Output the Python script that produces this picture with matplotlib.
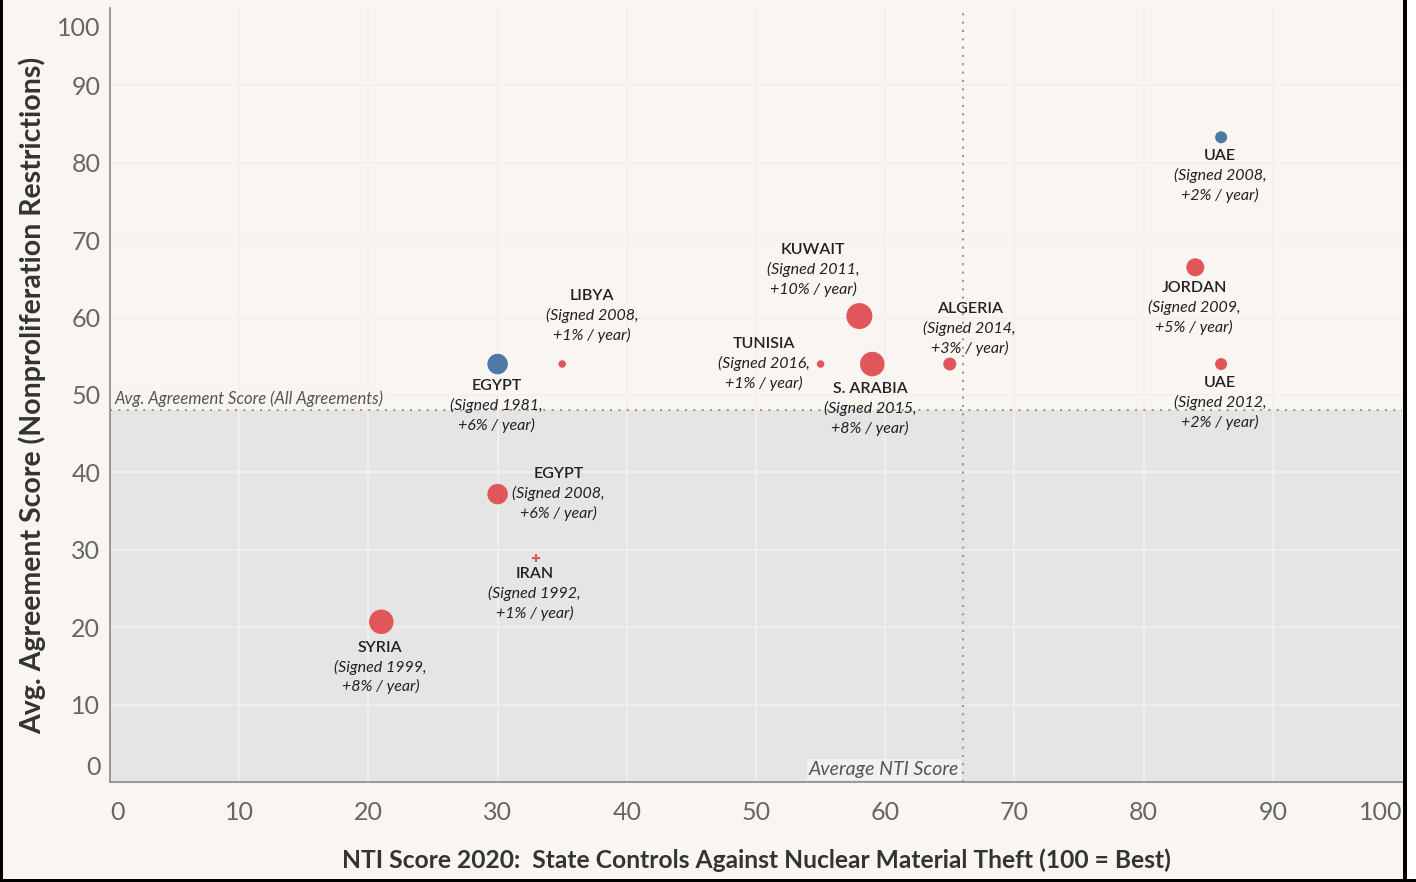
import matplotlib
matplotlib.use("Agg")
import matplotlib.pyplot as plt
import matplotlib.transforms as mtransforms
import numpy as np
from matplotlib.patches import Rectangle

# ---------------- data ----------------
countries = ["UAE", "JORDAN", "UAE", "ALGERIA", "S. ARABIA", "KUWAIT",
             "TUNISIA", "LIBYA", "EGYPT", "EGYPT", "IRAN", "SYRIA"]
signed_year = [2008, 2009, 2012, 2014, 2015, 2011, 2016, 2008, 1981, 2008, 1992, 1999]
growth_pct = [2, 5, 2, 3, 8, 10, 1, 1, 6, 6, 1, 8]
nti_score = [86, 84, 86, 65, 59, 58, 55, 35, 30, 30, 33, 21]
agreement_score = [83.3, 66.5, 54.0, 54.0, 54.0, 60.2, 54.0, 54.0, 54.0, 37.2, 28.9, 20.7]
earlier_agreement = [True, False, False, False, False, False, False, False, True, False, False, False]

avg_nti = 66.0
avg_agreement = 48.1

x_ticks = [0, 10, 20, 30, 40, 50, 60, 70, 80, 90, 100]
y_ticks = [0, 10, 20, 30, 40, 50, 60, 70, 80, 90, 100]

# ---------------- style ----------------
RED = "#e15759"
BLUE = "#4e79a7"
BG = "#f9f5f1"
SHADE = "#e5e5e5"
GRID = "#f2f0ee"

# label offsets (pixels) of country name centre relative to point
label_offsets = [(-1, -19), (-1, -21), (-1, -19), (20, 55), (-2, -25), (-46, 66),
                 (-57, 20), (30, 68), (-1, -22), (61, 20), (-2, -16), (-1, -26)]
marker_shapes = ["o"] * 10 + ["+", "o"]

# size scale: growth % -> marker diameter (px)
size_knots_pct = [1, 2, 3, 5, 6, 8, 10]
size_knots_px = [7.5, 12, 13, 18, 20.5, 24.5, 26]

plt.rcParams["font.family"] = ["Lato", "DejaVu Sans"]

W, H, DPI = 1416, 882, 100
fig = plt.figure(figsize=(W / DPI, H / DPI), dpi=DPI, facecolor=BG)
ax = fig.add_axes([110 / W, 1 - 782 / H, (1402 - 110) / W, (782 - 8) / H])
ax.set_facecolor(BG)
ax.set_xlim(0, 100)
ax.set_ylim(0, 100)

# shaded lower region
ax.axhspan(0, avg_agreement, color=SHADE, zorder=0, lw=0)

# grid
for t in x_ticks[1:-1]:
    ax.axvline(t, color=GRID, lw=1.2, zorder=0.5)
for t in y_ticks[1:-1]:
    ax.axhline(t, color=GRID, lw=1.2, zorder=0.5)

# average lines
ax.axhline(avg_agreement, color="#9a9a9a", lw=1.5, ls=(0, (1, 3)), zorder=1)
ax.axvline(avg_nti, color="#9a9a9a", lw=1.5, ls=(0, (1, 3)), zorder=1)

ax.text(0.35, avg_agreement + 0.4, "Avg. Agreement Score (All Agreements)",
        style="italic", fontsize=12, color="#555555", ha="left", va="bottom",
        bbox=dict(boxstyle="square,pad=0.12", fc="#f7f4f1", ec="none"), zorder=2)
ax.text(avg_nti - 0.3, 0.5, "Average NTI Score",
        style="italic", fontsize=14, color="#555555", ha="right", va="bottom",
        bbox=dict(boxstyle="square,pad=0.1", fc="#f1f1f1", ec="none"), zorder=2)

# points
for i in range(len(countries)):
    d = np.interp(growth_pct[i], size_knots_pct, size_knots_px)
    col = BLUE if earlier_agreement[i] else RED
    if marker_shapes[i] == "+":
        ax.scatter(nti_score[i], agreement_score[i], marker="+", s=(6 * 0.72) ** 2 * 2,
                   color=col, linewidths=1.6, zorder=3)
    else:
        ax.scatter(nti_score[i], agreement_score[i], s=(d * 0.72) ** 2,
                   color=col, edgecolors="none", zorder=3)
    dx, dy = label_offsets[i]
    ax.annotate(countries[i], (nti_score[i], agreement_score[i]),
                xytext=(dx, dy), textcoords="offset pixels",
                ha="center", va="center", fontsize=11.5, fontweight="semibold",
                color="#222222", zorder=4)
    ax.annotate(f"(Signed {signed_year[i]},", (nti_score[i], agreement_score[i]),
                xytext=(dx, dy - 19.5), textcoords="offset pixels",
                ha="center", va="center", fontsize=11.5, style="italic",
                color="#222222", zorder=4)
    ax.annotate(f"+{growth_pct[i]}% / year)", (nti_score[i], agreement_score[i]),
                xytext=(dx, dy - 39), textcoords="offset pixels",
                ha="center", va="center", fontsize=11.5, style="italic",
                color="#222222", zorder=4)

# spines
for s in ["top", "right"]:
    ax.spines[s].set_visible(False)
for s in ["left", "bottom"]:
    ax.spines[s].set_color("#8a8a8a")
    ax.spines[s].set_linewidth(1.2)

ax.set_xticks(x_ticks)
ax.set_yticks(y_ticks)
ax.set_xticklabels([str(t) for t in x_ticks])
ax.set_yticklabels([str(t) for t in y_ticks])
ax.tick_params(axis="both", length=0, labelsize=18, labelcolor="#666666")
ax.tick_params(axis="x", pad=14)
ax.tick_params(axis="y", pad=7)

xt = ax.xaxis.get_major_ticks()
xt[0].label1.set_ha("left")
xt[-1].label1.set_ha("right")
yt = ax.yaxis.get_major_ticks()
yt[0].label1.set_va("bottom")
yt[0].label1.set_transform(yt[0].label1.get_transform() +
                           mtransforms.ScaledTranslation(0, 3 / DPI, fig.dpi_scale_trans))
yt[-1].label1.set_va("top")
yt[-1].label1.set_transform(yt[-1].label1.get_transform() +
                            mtransforms.ScaledTranslation(0, -9 / DPI, fig.dpi_scale_trans))

ax.set_xlabel("NTI Score 2020:  State Controls Against Nuclear Material Theft (100 = Best)",
              fontsize=17.7, fontweight="bold", color="#333333", labelpad=17)
ax.set_ylabel("Avg. Agreement Score (Nonproliferation Restrictions)",
              fontsize=20.5, fontweight="bold", color="#333333", labelpad=8)

# black frame on figure edges
fig.patches.append(Rectangle((0, 0), 3 / W, 1, transform=fig.transFigure,
                             fc="black", ec="none", zorder=10))
fig.patches.append(Rectangle((1403 / W, 0), 4 / W, 1, transform=fig.transFigure,
                             fc="black", ec="none", zorder=10))
fig.patches.append(Rectangle((1407 / W, 0), 9 / W, 1, transform=fig.transFigure,
                             fc="white", ec="none", zorder=10))
fig.patches.append(Rectangle((0, 0), 1, 3 / H, transform=fig.transFigure,
                             fc="black", ec="none", zorder=10))

fig.savefig("out.png", dpi=DPI, facecolor=BG)
